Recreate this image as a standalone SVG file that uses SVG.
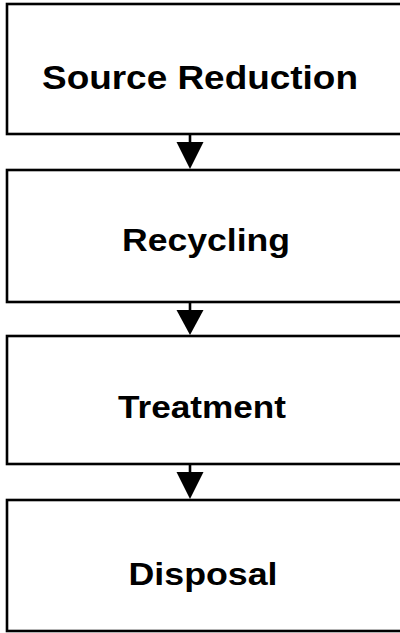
<svg xmlns="http://www.w3.org/2000/svg" width="400" height="633" viewBox="0 0 400 633">
<style>
.box{fill:#fff;stroke:#000;stroke-width:2.6}
.lbl{font-family:"Liberation Sans",Arial,sans-serif;font-weight:bold;fill:#000;text-anchor:middle}
.stem{stroke:#000;stroke-width:2.6}
.head{fill:#000}
</style>
<rect width="400" height="633" fill="#fff"/>
<g id="source-reduction">
<rect class="box" x="7" y="4" width="400" height="130"/>
<text class="lbl" x="200" y="89" font-size="34" textLength="316" lengthAdjust="spacingAndGlyphs">Source Reduction</text>
</g>
<g id="recycling">
<rect class="box" x="7" y="170" width="400" height="132"/>
<text class="lbl" x="206" y="251" font-size="31" textLength="168" lengthAdjust="spacingAndGlyphs">Recycling</text>
</g>
<g id="treatment">
<rect class="box" x="7" y="336" width="400" height="128"/>
<text class="lbl" x="202" y="418" font-size="31" textLength="168" lengthAdjust="spacingAndGlyphs">Treatment</text>
</g>
<g id="disposal">
<rect class="box" x="7" y="500" width="400" height="131"/>
<text class="lbl" x="203" y="585" font-size="32" textLength="149" lengthAdjust="spacingAndGlyphs">Disposal</text>
</g>
<g id="connectors">
<line class="stem" x1="190" y1="134" x2="190" y2="144"/>
<polygon class="head" points="176.5,142 203.5,142 190,169"/>
<line class="stem" x1="190" y1="302" x2="190" y2="312"/>
<polygon class="head" points="176.5,310 203.5,310 190,335"/>
<line class="stem" x1="190" y1="464" x2="190" y2="474"/>
<polygon class="head" points="176.5,472 203.5,472 190,499"/>
</g>
</svg>
